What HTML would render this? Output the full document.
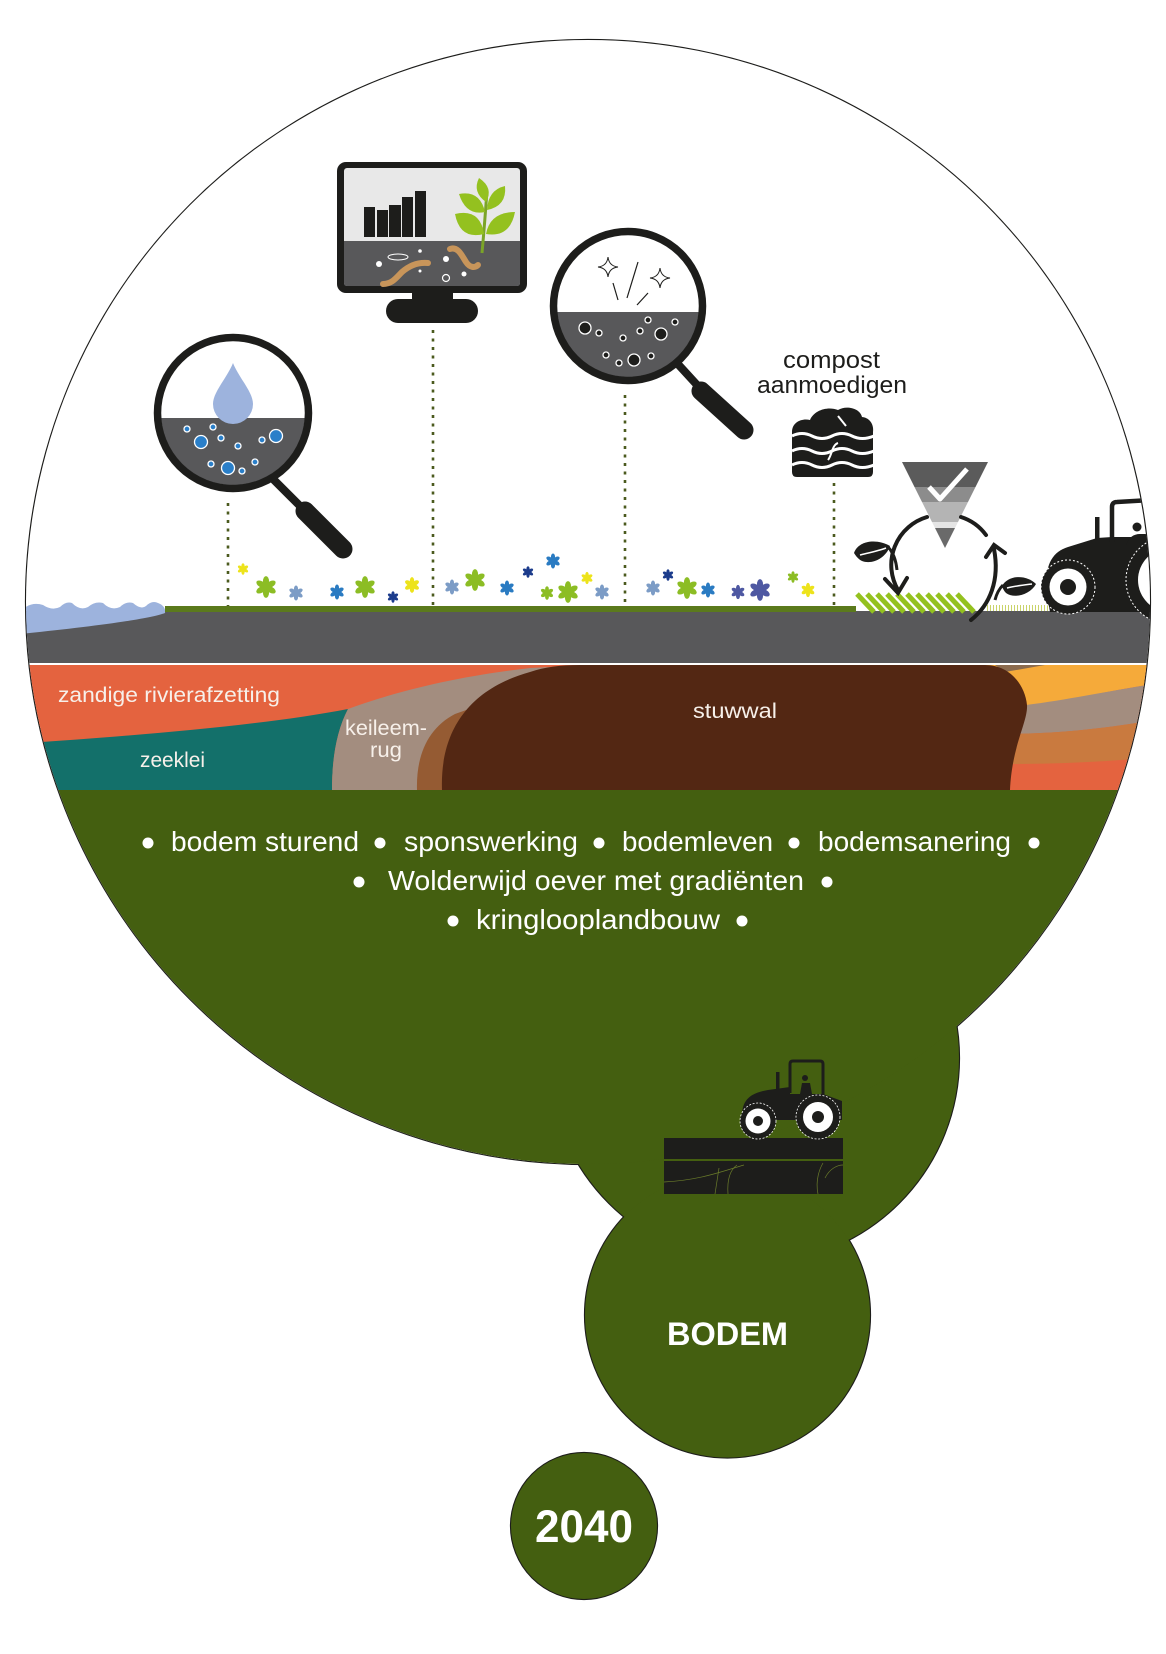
<!DOCTYPE html>
<html><head><meta charset="utf-8"><style>
html,body{margin:0;padding:0;background:#fff;}
body{width:1166px;height:1654px;overflow:hidden;}
svg{display:block;}
</style></head><body>
<svg width="1166" height="1654" viewBox="0 0 1166 1654" xmlns="http://www.w3.org/2000/svg" font-family="Liberation Sans, Arial, sans-serif">
<defs>
  <clipPath id="bc"><circle cx="588" cy="602" r="562"/></clipPath>
  <clipPath id="m1"><circle cx="233" cy="413" r="72"/></clipPath>
  <clipPath id="m2"><circle cx="628" cy="306" r="71"/></clipPath>
  <clipPath id="tri"><polygon points="902,462 988,462 945,548"/></clipPath>
  <g id="fl">
    <ellipse cx="0" cy="-3.6" rx="1.9" ry="3.2"/>
    <ellipse cx="0" cy="-3.6" rx="1.9" ry="3.2" transform="rotate(60)"/>
    <ellipse cx="0" cy="-3.6" rx="1.9" ry="3.2" transform="rotate(120)"/>
    <ellipse cx="0" cy="-3.6" rx="1.9" ry="3.2" transform="rotate(180)"/>
    <ellipse cx="0" cy="-3.6" rx="1.9" ry="3.2" transform="rotate(240)"/>
    <ellipse cx="0" cy="-3.6" rx="1.9" ry="3.2" transform="rotate(300)"/>
    <circle r="1.8"/>
  </g>
</defs>

<!-- union outlines -->
<g fill="none" stroke="#1d1d1b" stroke-width="2.2">
  <circle cx="588" cy="602" r="562"/>
  <circle cx="754" cy="1058" r="205"/>
  <circle cx="727.5" cy="1315" r="142.5"/>
  <circle cx="584" cy="1526" r="73"/>
</g>
<!-- fills -->
<circle cx="588" cy="602" r="562" fill="#fff"/>
<circle cx="754" cy="1058" r="205" fill="#445F10"/>
<circle cx="727.5" cy="1315" r="142.5" fill="#445F10"/>
<circle cx="584" cy="1526" r="73" fill="#445F10"/>

<g clip-path="url(#bc)">
  <rect x="0" y="790" width="1166" height="900" fill="#445F10"/>
  <!-- gray soil band -->
  <rect x="0" y="611" width="1166" height="52" fill="#58585A"/>
  <!-- water -->
  <path d="M20,612 Q30,601 43,605 Q52,611 60,607 Q66,601 72,603 Q80,611 88,607 Q95,601 103,603 Q111,611 120,607 Q126,601 133,603 Q141,610 146,606 Q152,600 158,603 Q166,606 165,613 C150,619 90,627 20,634 Z" fill="#9DB3DD"/>
  <!-- green line -->
  <rect x="165" y="606" width="691" height="6" fill="#5B7A1C"/>
  <!-- layers base -->
  <rect x="0" y="665" width="1166" height="125" fill="#E4633F"/>
  <path d="M0,745 C100,738 250,728 348,709 C336,732 332,760 332,790 L0,790 Z" fill="#13706A"/>
  <path d="M332,790 C332,760 336,732 348,709 C400,690 460,676 530,668 L570,666 L570,790 Z" fill="#A38D7F"/>
  <path d="M417,790 C416,755 428,728 455,714 L500,698 L500,790 Z" fill="#955B33"/>
  <!-- right layers -->
  <path d="M985,665 L1166,665 L1166,682 C1100,692 1060,702 1027,708 L985,708 Z" fill="#F5AA3A"/>
  <path d="M995,665 L1045,665 L1005,672 Z" fill="#8B6B4E"/>
  <path d="M1000,708 C1060,702 1100,692 1166,682 L1166,718 C1110,728 1060,734 1000,734 Z" fill="#A38D7F"/>
  <path d="M1000,734 C1060,734 1110,728 1166,718 L1166,756 C1110,762 1060,764 1000,764 Z" fill="#C97A3F"/>
  <!-- stuwwal -->
  <path d="M442,790 C440,735 465,690 530,672 C545,667 560,665 580,665 L985,665 C1010,665 1025,685 1027,705 C1028,722 1012,745 1010,790 Z" fill="#532713"/>

  <!-- layer labels -->
  <g fill="#F7F0EA" font-size="21">
    <text x="58" y="702" textLength="222" lengthAdjust="spacingAndGlyphs">zandige rivierafzetting</text>
    <text x="140" y="767" textLength="65" lengthAdjust="spacingAndGlyphs">zeeklei</text>
    <text x="345" y="735" textLength="82" lengthAdjust="spacingAndGlyphs">keileem-</text>
    <text x="370" y="757" textLength="32" lengthAdjust="spacingAndGlyphs">rug</text>
    <text x="693" y="718" textLength="84" lengthAdjust="spacingAndGlyphs">stuwwal</text>
  </g>

  <!-- dotted lines -->
  <g stroke="#4B5A1E" stroke-width="2.6" stroke-dasharray="3 5.5">
    <line x1="228" y1="503" x2="228" y2="606"/>
    <line x1="433" y1="330" x2="433" y2="606"/>
    <line x1="625" y1="395" x2="625" y2="606"/>
    <line x1="834" y1="483" x2="834" y2="606"/>
  </g>

  <!-- flowers -->
  <use href="#fl" fill="#EDE31B" transform="translate(243,569) scale(0.85)"/>
  <use href="#fl" fill="#8CBD24" transform="translate(266,587) scale(1.6)"/>
  <use href="#fl" fill="#7C9CC6" transform="translate(296,593) scale(1.1)"/>
  <use href="#fl" fill="#2A7BC2" transform="translate(337,592) scale(1.1)"/>
  <use href="#fl" fill="#8CBD24" transform="translate(365,587) scale(1.6)"/>
  <use href="#fl" fill="#1C3C8C" transform="translate(393,597) scale(0.85)"/>
  <use href="#fl" fill="#EDE31B" transform="translate(412,585) scale(1.15)"/>
  <use href="#fl" fill="#7C9CC6" transform="translate(452,587) scale(1.1)"/>
  <use href="#fl" fill="#8CBD24" transform="translate(475,580) scale(1.6)"/>
  <use href="#fl" fill="#2A7BC2" transform="translate(507,588) scale(1.1)"/>
  <use href="#fl" fill="#1C3C8C" transform="translate(528,572) scale(0.85)"/>
  <use href="#fl" fill="#2A7BC2" transform="translate(553,561) scale(1.1)"/>
  <use href="#fl" fill="#8CBD24" transform="translate(547,593) scale(1.0)"/>
  <use href="#fl" fill="#8CBD24" transform="translate(568,592) scale(1.6)"/>
  <use href="#fl" fill="#EDE31B" transform="translate(587,578) scale(0.9)"/>
  <use href="#fl" fill="#7C9CC6" transform="translate(602,592) scale(1.1)"/>
  <use href="#fl" fill="#7C9CC6" transform="translate(653,588) scale(1.1)"/>
  <use href="#fl" fill="#1C3C8C" transform="translate(668,575) scale(0.85)"/>
  <use href="#fl" fill="#8CBD24" transform="translate(687,588) scale(1.6)"/>
  <use href="#fl" fill="#2A7BC2" transform="translate(708,590) scale(1.1)"/>
  <use href="#fl" fill="#4E58A2" transform="translate(738,592) scale(1.05)"/>
  <use href="#fl" fill="#4E58A2" transform="translate(760,590) scale(1.6)"/>
  <use href="#fl" fill="#8CBD24" transform="translate(793,577) scale(0.85)"/>
  <use href="#fl" fill="#EDE31B" transform="translate(808,590) scale(1.05)"/>

  <!-- magnifier 1 -->
  <g clip-path="url(#m1)">
    <rect x="150" y="330" width="170" height="170" fill="#fff"/>
    <rect x="150" y="418" width="170" height="90" fill="#58585A"/>
  </g>
  <path d="M233,363 C227,378 213,392 213,404 A20,20 0 0 0 253,404 C253,392 239,378 233,363 Z" fill="#9DB3DD"/>
  <g fill="#2A7FC9" stroke="#fff" stroke-width="1.3">
    <circle cx="187" cy="429" r="3"/><circle cx="213" cy="427" r="3"/><circle cx="201" cy="442" r="6.5"/>
    <circle cx="221" cy="438" r="3"/><circle cx="238" cy="446" r="3"/><circle cx="262" cy="440" r="3"/>
    <circle cx="276" cy="436" r="6.5"/><circle cx="211" cy="464" r="3"/><circle cx="228" cy="468" r="6.5"/>
    <circle cx="242" cy="471" r="3"/><circle cx="255" cy="462" r="3"/>
  </g>
  <circle cx="233" cy="413" r="75.5" fill="none" stroke="#1d1d1b" stroke-width="7.5"/>
  <line x1="272" y1="478" x2="302" y2="508" stroke="#1d1d1b" stroke-width="8"/>
  <line x1="305" y1="511" x2="343" y2="549" stroke="#1d1d1b" stroke-width="19" stroke-linecap="round"/>

  <!-- monitor -->
  <rect x="337" y="162" width="190" height="131" rx="9" fill="#1d1d1b"/>
  <rect x="344" y="168" width="176" height="118" rx="3" fill="#E8E8E8"/>
  <path d="M344,241 L520,241 L520,283 Q520,286 517,286 L347,286 Q344,286 344,283 Z" fill="#58585A"/>
  <rect x="412" y="290" width="41" height="12" fill="#1d1d1b"/>
  <rect x="386" y="299" width="92" height="24" rx="12" fill="#1d1d1b"/>
  <g fill="#1d1d1b">
    <rect x="364" y="207" width="11" height="30"/><rect x="377" y="210" width="11" height="27"/>
    <rect x="389" y="205" width="12" height="32"/><rect x="402" y="197" width="11" height="40"/>
    <rect x="415" y="191" width="11" height="46"/>
  </g>
  <path d="M482,253 Q485,220 487,190" stroke="#7BA428" stroke-width="3" fill="none"/>
  <g fill="#94C11F">
    <path d="M486,202 Q472,192 479,178 Q494,188 486,202 Z"/>
    <path d="M485,212 Q466,216 459,194 Q480,190 485,212 Z"/>
    <path d="M487,210 Q488,190 505,186 Q507,206 487,210 Z"/>
    <path d="M484,234 Q460,240 455,214 Q480,208 484,234 Z"/>
    <path d="M486,234 Q490,212 515,212 Q510,238 486,234 Z"/>
  </g>
  <path d="M383,284 C392,284 396,278 402,272 C410,265 418,262 428,263" stroke="#C8955A" stroke-width="6" fill="none" stroke-linecap="round"/>
  <path d="M450,249 C458,246 462,256 466,262 C470,268 475,268 478,265" stroke="#C8955A" stroke-width="6" fill="none" stroke-linecap="round"/>
  <g fill="#fff">
    <circle cx="379" cy="264" r="3"/><circle cx="420" cy="251" r="1.8"/><circle cx="446" cy="259" r="3"/>
    <circle cx="464" cy="274" r="2.5"/><circle cx="420" cy="271" r="1.5"/>
  </g>
  <ellipse cx="398" cy="257" rx="10" ry="3" fill="none" stroke="#fff" stroke-width="1"/>
  <circle cx="446" cy="278" r="3.5" fill="none" stroke="#fff" stroke-width="1.2"/>

  <!-- magnifier 2 -->
  <g clip-path="url(#m2)">
    <rect x="550" y="228" width="160" height="160" fill="#fff"/>
    <rect x="550" y="312" width="160" height="80" fill="#58585A"/>
  </g>
  <g fill="#fff" stroke="#1d1d1b" stroke-width="1">
    <path d="M608,257 Q609,266 618,267 Q609,268 608,277 Q607,268 598,267 Q607,266 608,257 Z"/>
    <path d="M660,268 Q661,277 670,278 Q661,279 660,288 Q659,279 650,278 Q659,277 660,268 Z"/>
  </g>
  <g stroke="#1d1d1b" stroke-width="1.2">
    <line x1="613" y1="283" x2="618" y2="300"/><line x1="627" y1="298" x2="638" y2="262"/><line x1="637" y1="305" x2="648" y2="293"/>
  </g>
  <g fill="#1d1d1b" stroke="#fff" stroke-width="1.3">
    <circle cx="585" cy="328" r="6"/><circle cx="599" cy="333" r="3"/><circle cx="623" cy="338" r="3"/>
    <circle cx="640" cy="331" r="3"/><circle cx="648" cy="320" r="3"/><circle cx="661" cy="334" r="6"/>
    <circle cx="675" cy="322" r="3"/><circle cx="606" cy="355" r="3"/><circle cx="619" cy="363" r="3"/>
    <circle cx="634" cy="360" r="6"/><circle cx="651" cy="356" r="3"/>
  </g>
  <circle cx="628" cy="306" r="74.5" fill="none" stroke="#1d1d1b" stroke-width="7.5"/>
  <line x1="676" y1="362" x2="698" y2="386" stroke="#1d1d1b" stroke-width="8"/>
  <line x1="701" y1="391" x2="744" y2="430" stroke="#1d1d1b" stroke-width="19" stroke-linecap="round"/>

  <!-- compost -->
  <g fill="#1d1d1b" font-size="24">
    <text x="783" y="368" textLength="97" lengthAdjust="spacingAndGlyphs">compost</text>
    <text x="757" y="393" textLength="150" lengthAdjust="spacingAndGlyphs">aanmoedigen</text>
  </g>
  <path d="M792,432 C792,422 802,418 810,420 C814,410 828,406 838,410 C846,405 860,408 862,417 C871,418 874,426 873,432 L873,472 Q873,477 868,477 L797,477 Q792,477 792,472 Z" fill="#1d1d1b"/>
  <g stroke="#fff" stroke-width="3" fill="none">
    <path d="M792,436 Q802,431 812,436 T832,436 T852,436 T874,436"/>
    <path d="M792,451 Q802,446 812,451 T832,451 T852,451 T874,451"/>
    <path d="M792,465 Q802,460 812,465 T832,465 T852,465 T874,465"/>
    <path d="M838,443 C832,445 832,455 828,460" stroke-width="2"/>
    <path d="M838,416 L846,426" stroke-width="2"/>
  </g>

  <!-- triangle -->
  <g clip-path="url(#tri)">
    <rect x="900" y="462" width="90" height="25" fill="#5B5B5B"/>
    <rect x="900" y="487" width="90" height="15" fill="#8C8C8C"/>
    <rect x="900" y="502" width="90" height="20" fill="#B4B4B4"/>
    <rect x="900" y="522" width="90" height="6" fill="#E4E4E4"/>
    <rect x="900" y="528" width="90" height="22" fill="#6A6A6A"/>
  </g>
  <path d="M929,487 L940,499 L967,469" stroke="#fff" stroke-width="5" fill="none" stroke-linejoin="round"/>

  <!-- hatch -->
  <g stroke="#94C11F" stroke-width="5">
    <line x1="857" y1="594" x2="874" y2="612"/><line x1="867" y1="594" x2="884" y2="612"/>
    <line x1="877" y1="594" x2="894" y2="612"/><line x1="887" y1="594" x2="904" y2="612"/>
    <line x1="897" y1="594" x2="914" y2="612"/><line x1="907" y1="594" x2="924" y2="612"/>
    <line x1="917" y1="594" x2="934" y2="612"/><line x1="927" y1="594" x2="944" y2="612"/>
    <line x1="937" y1="594" x2="954" y2="612"/><line x1="947" y1="594" x2="964" y2="612"/>
    <line x1="957" y1="594" x2="974" y2="612"/>
  </g>
  <line x1="987" y1="608" x2="1150" y2="608" stroke="#C9D36A" stroke-width="6" stroke-dasharray="1 2"/>

  <!-- cycle arrows -->
  <g stroke="#1d1d1b" stroke-width="4" fill="none" stroke-linecap="round">
    <path d="M927,517 A50,50 0 0 0 898,590"/>
    <path d="M885,579 L898,593 L907,578"/>
    <path d="M961,517 A50,50 0 0 1 986,535"/>
    <path d="M971,620 C990,605 1000,580 994,549"/>
    <path d="M986,557 L994,545 L1005,553"/>
  </g>
  <path d="M854,553 C858,541 876,538 890,546 C886,558 872,565 862,561 C858,559 856,556 854,553 Z" fill="#1d1d1b"/>
  <path d="M860,555 C868,553 878,551 886,548" stroke="#fff" stroke-width="1.5" fill="none"/>
  <path d="M888,547 C893,552 896,560 897,570" stroke="#1d1d1b" stroke-width="3" fill="none"/>
  <path d="M1002,586 C1008,575 1026,574 1036,584 C1030,595 1014,599 1006,593 C1004,591 1003,589 1002,586 Z" fill="#1d1d1b"/>
  <path d="M1007,588 C1015,586 1024,585 1032,584" stroke="#fff" stroke-width="1.5" fill="none"/>
  <path d="M1003,585 C998,590 996,596 995,600" stroke="#1d1d1b" stroke-width="3" fill="none"/>

  <!-- big tractor -->
  <g fill="#1d1d1b">
    <path d="M1046,590 C1045,565 1052,552 1068,547 L1097,538 L1112,537 L1150,537 L1150,612 L1050,612 Z"/>
    <rect x="1095" y="517" width="4.5" height="24"/>
    <circle cx="1170" cy="580" r="44"/>
    <circle cx="1068" cy="587" r="27"/>
  </g>
  <path d="M1112,542 L1112,507 Q1112,502 1117,502 L1150,500" stroke="#1d1d1b" stroke-width="4.5" fill="none"/>
  <circle cx="1137" cy="527" r="4.5" fill="#1d1d1b"/>
  <path d="M1126,545 Q1130,534 1140,534 L1150,534 L1150,545 Z" fill="#1d1d1b"/>
  <circle cx="1068" cy="587" r="27" fill="none" stroke="#fff" stroke-width="1" stroke-dasharray="2 2"/>
  <circle cx="1068" cy="587" r="18.5" fill="#fff"/>
  <circle cx="1068" cy="587" r="8" fill="#1d1d1b"/>
  <circle cx="1170" cy="580" r="32" fill="#fff"/>
  <circle cx="1170" cy="580" r="15" fill="#1d1d1b"/>
  <circle cx="1170" cy="580" r="44" fill="none" stroke="#fff" stroke-width="1" stroke-dasharray="2 2"/>
</g>

<!-- bullet text -->
<g fill="#fff" font-size="28">
  <circle cx="148" cy="843" r="5.5"/>
  <text x="171" y="851" textLength="188" lengthAdjust="spacingAndGlyphs">bodem sturend</text>
  <circle cx="380" cy="843" r="5.5"/>
  <text x="404" y="851" textLength="174" lengthAdjust="spacingAndGlyphs">sponswerking</text>
  <circle cx="599" cy="843" r="5.5"/>
  <text x="622" y="851" textLength="151" lengthAdjust="spacingAndGlyphs">bodemleven</text>
  <circle cx="794" cy="843" r="5.5"/>
  <text x="818" y="851" textLength="193" lengthAdjust="spacingAndGlyphs">bodemsanering</text>
  <circle cx="1034" cy="843" r="5.5"/>

  <circle cx="359" cy="882" r="5.5"/>
  <text x="388" y="890" textLength="416" lengthAdjust="spacingAndGlyphs">Wolderwijd oever met gradiënten</text>
  <circle cx="827" cy="882" r="5.5"/>

  <circle cx="453" cy="921" r="5.5"/>
  <text x="476" y="929" textLength="244" lengthAdjust="spacingAndGlyphs">kringlooplandbouw</text>
  <circle cx="742" cy="921" r="5.5"/>
</g>

<!-- small tractor -->
<g fill="#1d1d1b">
  <rect x="664" y="1138" width="179" height="21"/>
  <rect x="664" y="1161" width="179" height="33"/>
  <path d="M742,1116 C742,1100 750,1093 768,1090 L790,1087 L790,1094 L823,1094 L842,1101 L842,1120 L742,1120 Z"/>
  <rect x="776" y="1072" width="3.5" height="18"/>
  <circle cx="805" cy="1078" r="3"/>
  <path d="M800,1094 L802,1083 L810,1083 L812,1094 Z"/>
  <circle cx="758" cy="1121" r="18"/>
  <circle cx="818" cy="1117" r="22"/>
</g>
<path d="M790,1093 L790,1064 Q790,1061 793,1061 L820,1061 Q823,1061 823,1064 L823,1095" stroke="#1d1d1b" stroke-width="3" fill="none"/>
<g fill="none" stroke="#fff" stroke-width="0.8" stroke-dasharray="2 1.6">
  <circle cx="758" cy="1121" r="18"/><circle cx="818" cy="1117" r="22"/>
</g>
<circle cx="758" cy="1121" r="12.5" fill="#fff"/><circle cx="758" cy="1121" r="5" fill="#1d1d1b"/>
<circle cx="818" cy="1117" r="15" fill="#fff"/><circle cx="818" cy="1117" r="6" fill="#1d1d1b"/>
<g stroke="#6B7D2A" stroke-width="0.7" fill="none">
  <path d="M664,1182 C700,1180 720,1172 744,1165"/>
  <path d="M715,1194 L719,1168"/>
  <path d="M728,1194 C727,1180 730,1170 737,1165"/>
  <path d="M818,1194 C815,1180 820,1168 823,1163"/>
  <path d="M825,1178 C830,1168 838,1165 843,1165"/>
</g>

<!-- labels -->
<text x="727.5" y="1345" fill="#fff" font-size="32" font-weight="bold" text-anchor="middle" textLength="121" lengthAdjust="spacingAndGlyphs">BODEM</text>
<text x="584" y="1542" fill="#fff" font-size="45" font-weight="bold" text-anchor="middle" textLength="98" lengthAdjust="spacingAndGlyphs">2040</text>
</svg>
</body></html>
